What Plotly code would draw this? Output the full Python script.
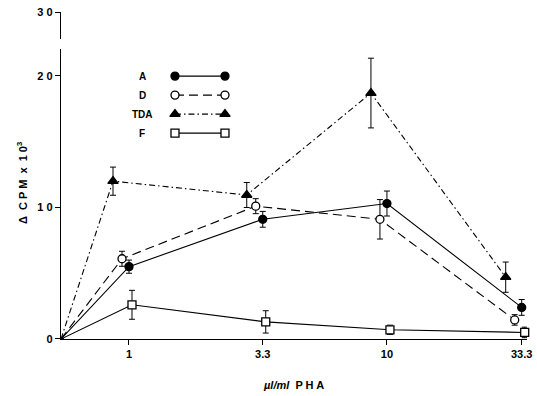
import numpy as np
import plotly.graph_objects as go

# ---------------- data ----------------
doses = [1, 3.3, 10, 33.3]              # µl/ml PHA
dose_labels = ["1", "3.3", "10", "33.3"]
series_names = ["A", "D", "TDA", "F"]

A_vals = [5.5, 9.1, 10.3, 2.4]
A_err = [0.5, 0.6, 0.95, 0.6]
D_vals = [6.1, 10.1, 9.1, 1.45]
D_err = [0.57, 0.57, 1.5, 0.4]
TDA_vals = [12.0, 10.95, 18.7, 4.7]
TDA_err = [1.07, 0.95, 2.65, 1.15]
F_vals = [2.6, 1.3, 0.7, 0.5]
F_err = [1.1, 0.85, 0.35, 0.4]

y_tick_vals = [0, 10, 20]
y_tick_text = ["0", "1 0", "2 0"]
y_break_tick = 30

# ---------------- styling ----------------
PX_PER_DEC = 258.0
X_RANGE = [-0.2636, 1.543]           # log10 range of x axis
ZERO_POS = 10 ** X_RANGE[0]           # control (no PHA) plotted at axis origin
FONT = "Liberation Sans, Arial, sans-serif"
TICKFONT = dict(family=FONT, size=11, color="black", weight="bold")

styles = {
    "A":   dict(symbol="circle", fill="black", dash="solid", off=0),
    "D":   dict(symbol="circle", fill="white", dash="9px,5px", off=-7),
    "TDA": dict(symbol="triangle-up", fill="black", dash="6px,3px,1.5px,3px", off=-16),
    "F":   dict(symbol="square", fill="white", dash="solid", off=3),
}
values = {"A": (A_vals, A_err), "D": (D_vals, D_err),
          "TDA": (TDA_vals, TDA_err), "F": (F_vals, F_err)}

fig = go.Figure()

for name in series_names:
    st = styles[name]
    vals, errs = values[name]
    msize = 9 if st["symbol"] == "triangle-up" else 8
    factor = 10 ** (st["off"] / PX_PER_DEC)
    xs = [ZERO_POS] + [d * factor for d in doses]
    ys = [0] + list(vals)
    es = [0] + list(errs)
    sizes = [0] + [msize] * len(doses)
    fig.add_trace(go.Scatter(
        x=xs, y=ys, mode="lines+markers", name=name, showlegend=False,
        line=dict(color="black", width=1.1, dash=st["dash"]),
        marker=dict(symbol=st["symbol"], size=sizes, opacity=1,
                    color=st["fill"], line=dict(color="black", width=1.3)),
        error_y=dict(type="data", array=es, color="black", thickness=1, width=3,
                     visible=True),
        cliponaxis=False,
    ))

# hidden trace to create the upper (broken) y-axis segment
fig.add_trace(go.Scatter(x=[], y=[], xaxis="x", yaxis="y2", showlegend=False,
                         hoverinfo="skip"))

# custom legend: label on left, line sample with markers at both ends
for i, name in enumerate(series_names):
    st = styles[name]
    fig.add_trace(go.Scatter(
        x=[0, 1], y=[i + 1, i + 1], xaxis="x2", yaxis="y3", mode="lines+markers",
        showlegend=False, hoverinfo="skip", cliponaxis=False,
        line=dict(color="black", width=1.1, dash=st["dash"]),
        marker=dict(symbol=st["symbol"], size=8 if st["symbol"] != "triangle-up" else 9,
                    color=st["fill"], line=dict(color="black", width=1.3)),
    ))
    fig.add_annotation(x=0.174, y=i + 1, xref="paper", yref="y3", text=name,
                       showarrow=False, xanchor="center", yanchor="middle",
                       font=dict(family=FONT, size=10, color="black", weight="bold"))

fig.update_layout(
    width=537, height=396,
    margin=dict(l=61, r=10, t=10, b=57, autoexpand=False),
    paper_bgcolor="white", plot_bgcolor="white",
    font=dict(family=FONT, color="black"),
    xaxis=dict(type="log", range=X_RANGE, tickvals=doses, ticktext=dose_labels,
               showgrid=False, zeroline=False, showline=True, linecolor="black",
               linewidth=1.3, ticks="outside", ticklen=5, tickcolor="black",
               tickfont=TICKFONT, automargin=False, anchor="y"),
    yaxis=dict(domain=[0, 0.8815], range=[0, 22.05], tickvals=y_tick_vals,
               ticktext=y_tick_text, showgrid=False, zeroline=False, showline=True,
               linecolor="black", linewidth=1.3, ticks="outside", ticklen=5,
               tickcolor="black", tickfont=TICKFONT, automargin=False, anchor="x"),
    yaxis2=dict(domain=[0.9119, 0.9939], range=[28, 30], tickvals=[y_break_tick],
                ticktext=["3 0"], showgrid=False, zeroline=False, showline=True,
                linecolor="black", linewidth=1.3, ticks="outside", ticklen=5,
                tickcolor="black", tickfont=TICKFONT, automargin=False, anchor="x"),
    xaxis2=dict(domain=[0.2446, 0.3519], range=[0, 1], visible=False, anchor="y3"),
    yaxis3=dict(domain=[0.597, 0.828], range=[4.5, 0.5], visible=False, anchor="x2"),
)

# axis titles
fig.add_annotation(x=(22 - 61) / 466, y=0.474, xref="paper", yref="paper",
                   text="Δ  C P M  x  1 0<sup>3</sup>", textangle=-90, showarrow=False,
                   xanchor="center", yanchor="middle",
                   font=dict(family=FONT, size=11, color="black", weight="bold"))
fig.add_annotation(x=(293 - 61) / 466, y=(339 - 385) / 329, xref="paper", yref="paper",
                   text="<i>µl/ml</i>  P H A", showarrow=False,
                   xanchor="center", yanchor="middle",
                   font=dict(family=FONT, size=11, color="black", weight="bold"))

fig.write_html("out.html", config={"displayModeBar": False},
               post_script="document.body.style.margin='0';document.body.style.padding='0';")
